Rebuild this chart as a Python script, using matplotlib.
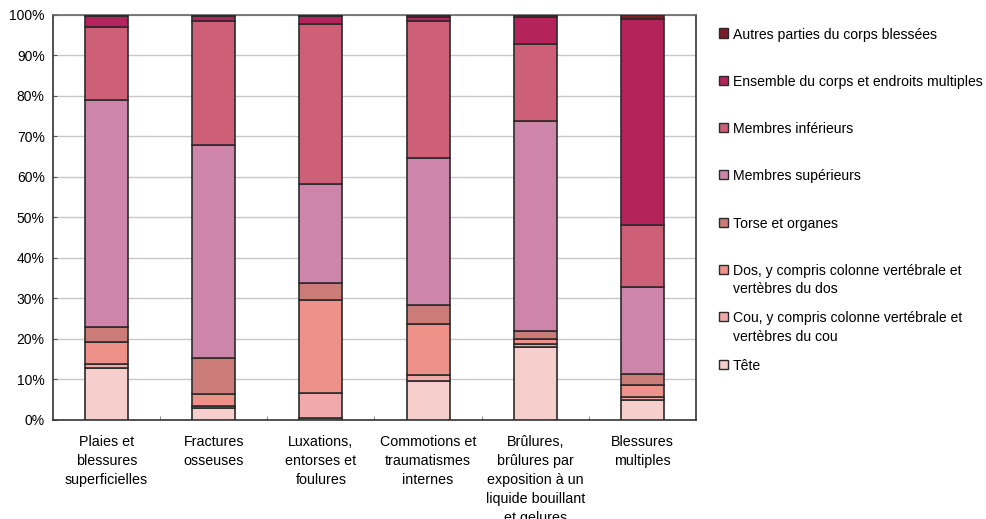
import matplotlib
matplotlib.use("Agg")
import matplotlib.pyplot as plt
from matplotlib.patches import Rectangle
import numpy as np

plt.rcParams['font.family'] = ['Liberation Sans', 'DejaVu Sans']

categories = ["Plaies et\nblessures\nsuperficielles",
              "Fractures\nosseuses",
              "Luxations,\nentorses et\nfoulures",
              "Commotions et\ntraumatismes\ninternes",
              "Brûlures,\nbrûlures par\nexposition à un\nliquide bouillant\net gelures",
              "Blessures\nmultiples"]

# percentages, bottom to top
tete = [12.8, 2.8, 0.3, 9.5, 18.0, 4.7]
cou = [0.8, 0.5, 6.3, 1.5, 0.7, 0.9]
dos = [5.5, 3.0, 22.9, 12.7, 1.3, 3.0]
torse = [3.8, 9.0, 4.3, 4.6, 1.9, 2.6]
sup = [56.1, 52.6, 24.5, 36.3, 51.8, 21.5]
inf = [18.1, 30.7, 39.5, 34.0, 19.2, 15.5]
ens = [2.7, 1.2, 2.0, 1.0, 6.5, 50.9]
autres = [0.2, 0.2, 0.2, 0.4, 0.6, 0.9]

series = [tete, cou, dos, torse, sup, inf, ens, autres]
names = ["Tête",
         "Cou, y compris colonne vertébrale et\nvertèbres du cou",
         "Dos, y compris colonne vertébrale et\nvertèbres du dos",
         "Torse et organes",
         "Membres supérieurs",
         "Membres inférieurs",
         "Ensemble du corps et endroits multiples",
         "Autres parties du corps blessées"]
colors = ["#F6CFCD", "#F0AAAA", "#EE9189", "#CB7C79",
          "#CD85AA", "#CD5F76", "#B5235B", "#7A1E26"]

W, H = 987, 519
fig = plt.figure(figsize=(W / 100, H / 100), dpi=100)
ax = fig.add_axes([53 / W, 1 - 419.5 / H, (696 - 53) / W, (419.5 - 15) / H])

x = np.arange(len(categories))
bottom = np.zeros(len(categories))
for vals, col in zip(series, colors):
    ax.bar(x, vals, 0.4, bottom=bottom, color=col, edgecolor="#2b2b2b",
           linewidth=1.2, zorder=3)
    bottom += np.array(vals)

ax.set_xlim(-0.5, len(categories) - 0.5)
ax.set_ylim(0, 100)
ax.set_yticks(np.arange(0, 101, 10))
ax.set_yticklabels(["{}%".format(v) for v in range(0, 101, 10)], fontsize=10)
ax.yaxis.grid(True, color="#c8c8cc", linewidth=1, zorder=0)
ax.tick_params(axis="y", direction="in", length=3, color="#555555", pad=6)

ax.set_xticks(x)
ax.set_xticklabels(categories, fontsize=10.3, linespacing=1.45)
ax.tick_params(axis="x", length=0, pad=11.5)
ax.set_xticks(np.arange(0.5, len(categories) - 1, 1), minor=True)
ax.tick_params(axis="x", which="minor", direction="in", length=3, color="#777777")

for s in ax.spines.values():
    s.set_color("#333333")
    s.set_linewidth(1.2)
ax.spines["top"].set_color("#666666")

# legend, top entry first
y0, step = 33, 47.3
for i, (name, col) in enumerate(zip(names[::-1], colors[::-1])):
    yc = y0 + step * i
    fig.add_artist(Rectangle((719 / W, 1 - (yc + 4.5) / H), 9 / W, 9 / H,
                             transform=fig.transFigure, facecolor=col,
                             edgecolor="#2b2b2b", linewidth=1))
    fig.text(733 / W, 1 - (yc - 5.5) / H, name, fontsize=10.1, va="top",
             ha="left", linespacing=1.4)

fig.savefig("out.png", dpi=100)
